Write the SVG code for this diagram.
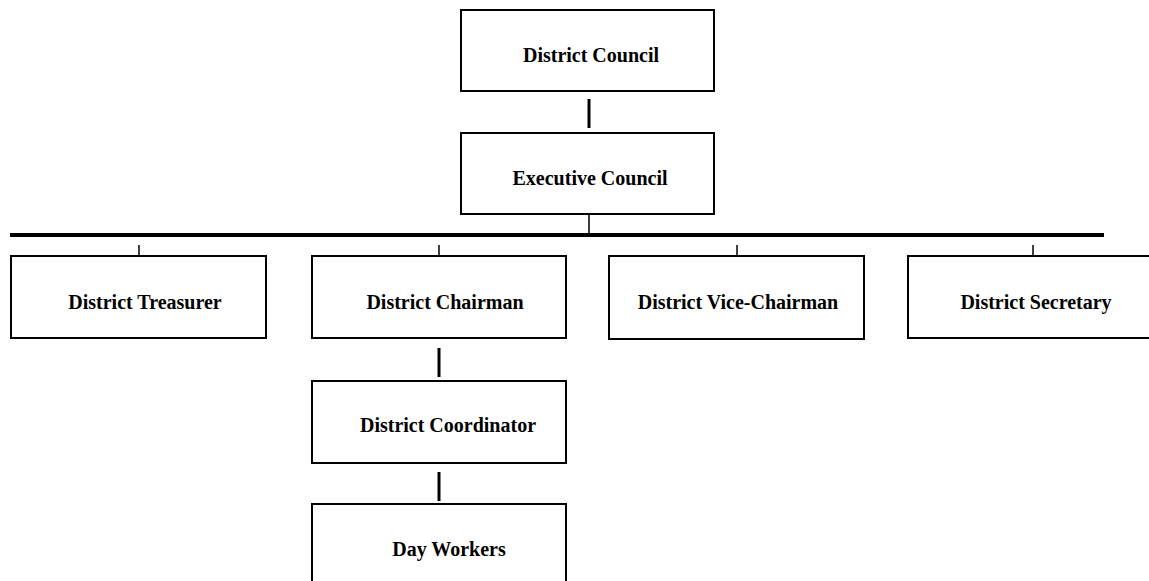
<svg xmlns="http://www.w3.org/2000/svg" width="1149" height="581" viewBox="0 0 1149 581">
<style>
.box{fill:#fff;stroke:#000;stroke-width:2}
.lbl{font-family:"Liberation Serif","Times New Roman",serif;font-weight:bold;font-size:20px;fill:#000;text-anchor:middle}
.thick{stroke:#000;stroke-width:3;fill:none}
.thin{stroke:#000;stroke-width:1.5;fill:none}
.bar{stroke:#000;stroke-width:4;fill:none}
</style>
<rect width="1149" height="581" fill="#fff"/>
<g id="connectors">
<line class="thick" x1="589" y1="99" x2="589" y2="128"/>
<line class="thin" x1="589" y1="214" x2="589" y2="235"/>
<line class="bar" x1="10" y1="235" x2="1104" y2="235"/>
<line class="thin" x1="139" y1="245" x2="139" y2="256"/>
<line class="thin" x1="439" y1="245" x2="439" y2="256"/>
<line class="thin" x1="737" y1="245" x2="737" y2="256"/>
<line class="thin" x1="1033" y1="245" x2="1033" y2="256"/>
<line class="thick" x1="439" y1="348" x2="439" y2="377"/>
<line class="thick" x1="439" y1="472" x2="439" y2="501"/>
</g>
<g id="district-council"><rect class="box" x="461" y="10" width="253" height="81"/><text class="lbl" x="591" y="62">District Council</text></g>
<g id="executive-council"><rect class="box" x="461" y="133" width="253" height="81"/><text class="lbl" x="590" y="185">Executive Council</text></g>
<g id="district-treasurer"><rect class="box" x="11" y="256" width="255" height="82"/><text class="lbl" x="145" y="309">District Treasurer</text></g>
<g id="district-chairman"><rect class="box" x="312" y="256" width="254" height="82"/><text class="lbl" x="445" y="309">District Chairman</text></g>
<g id="district-vice-chairman"><rect class="box" x="609" y="256" width="255" height="83"/><text class="lbl" x="738" y="309">District Vice-Chairman</text></g>
<g id="district-secretary"><rect class="box" x="908" y="256" width="255" height="82"/><text class="lbl" x="1036" y="309">District Secretary</text></g>
<g id="district-coordinator"><rect class="box" x="312" y="381" width="254" height="82"/><text class="lbl" x="448" y="432">District Coordinator</text></g>
<g id="day-workers"><rect class="box" x="312" y="504" width="254" height="90"/><text class="lbl" x="449" y="556">Day Workers</text></g>
</svg>
